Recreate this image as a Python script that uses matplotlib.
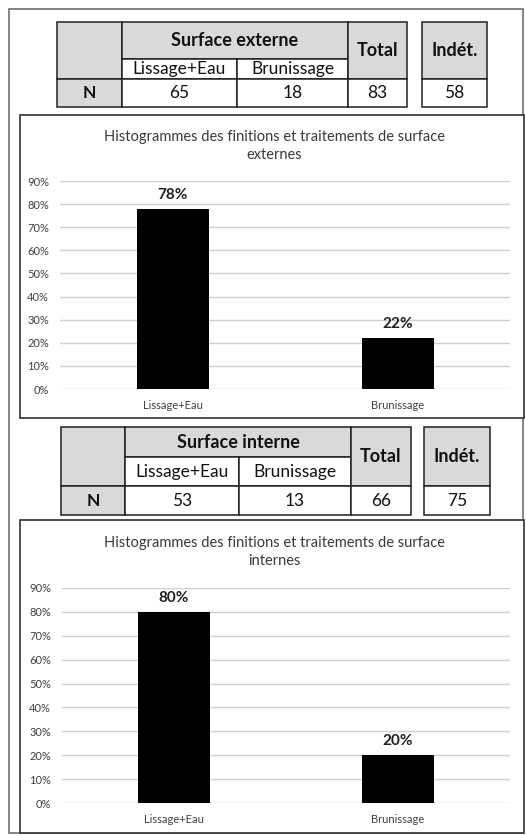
import matplotlib.pyplot as plt
from matplotlib.patches import Rectangle
from matplotlib.ticker import PercentFormatter

plt.rcParams['font.family'] = ['Lato', 'DejaVu Sans']

categories = ['Lissage+Eau', 'Brunissage']

ext_counts = [65, 18]
ext_total = 83
ext_indet = 58
ext_pct = [0.78, 0.22]

int_counts = [53, 13]
int_total = 66
int_indet = 75
int_pct = [0.80, 0.20]

W, H = 526, 836
fig = plt.figure(figsize=(W/100, H/100), dpi=100)
bg = fig.add_axes([0, 0, 1, 1])
bg.set_xlim(0, W)
bg.set_ylim(H, 0)
bg.axis('off')

gray = '#d9d9d9'

# outer frame
bg.add_patch(Rectangle((9, 9), 514, 824, fill=False, ec='#707070', lw=1.2))


def cell(x0, y0, x1, y1, txt='', fc='white', bold=False, size=12.5):
    bg.add_patch(Rectangle((x0, y0), x1-x0, y1-y0, fc=fc, ec='#202020', lw=1.1, zorder=2))
    if txt:
        bg.text((x0+x1)/2, (y0+y1)/2, txt, ha='center', va='center', fontsize=size,
                fontweight='bold' if bold else 'normal', zorder=3, color='#111111')


def table(cols, rows, indet_x, title, counts, total, indet):
    c0, c1, c2, c3, c4 = cols
    r0, r1, r2, r3 = rows
    cell(c0, r0, c1, r2, fc=gray)
    cell(c0, r2, c1, r3, 'N', fc=gray, bold=True)
    cell(c1, r0, c3, r1, title, fc=gray, bold=True, size=13)
    cell(c1, r1, c2, r2, categories[0])
    cell(c2, r1, c3, r2, categories[1])
    cell(c1, r2, c2, r3, str(counts[0]))
    cell(c2, r2, c3, r3, str(counts[1]))
    cell(c3, r0, c4, r2, 'Total', fc=gray, bold=True, size=13)
    cell(c3, r2, c4, r3, str(total))
    cell(indet_x[0], r0, indet_x[1], r2, 'Indét.', fc=gray, bold=True, size=13)
    cell(indet_x[0], r2, indet_x[1], r3, str(indet))


def chart(box, area, title_y, title, pct):
    bx0, by0, bx1, by1 = box
    bg.add_patch(Rectangle((bx0, by0), bx1-bx0, by1-by0, fc='white', ec='#303030', lw=1.2))
    bg.text((bx0+bx1)/2+2, title_y, 'Histogrammes des finitions et traitements de surface\n' + title,
            ha='center', va='center', fontsize=10.5, color='#3a3a3a', linespacing=1.35)
    x0, y0, x1, y1 = area
    ax = fig.add_axes([x0/W, 1-y1/H, (x1-x0)/W, (y1-y0)/H])
    ax.patch.set_alpha(0)
    bars = ax.bar(range(len(categories)), pct, width=0.32, color='black', zorder=3)
    ax.set_xlim(-0.5, 1.5)
    ax.set_ylim(0, 0.9)
    ax.set_yticks([i/10 for i in range(10)])
    ax.yaxis.set_major_formatter(PercentFormatter(1.0, decimals=0))
    ax.set_xticks(range(len(categories)))
    ax.set_xticklabels(categories)
    ax.tick_params(length=0, labelsize=8, colors='#404040', pad=8)
    ax.tick_params(axis='y', pad=8)
    ax.grid(axis='y', color='#d0d0d0', lw=1)
    for s in ax.spines.values():
        s.set_visible(False)
    for b, v in zip(bars, pct):
        ax.text(b.get_x()+b.get_width()/2, v+0.03, '%d%%' % round(v*100), ha='center', va='bottom',
                fontsize=11, fontweight='bold', color='#202020')


table([57, 122, 237, 348, 407], [22, 59, 79, 107], (422, 487), 'Surface externe',
      ext_counts, ext_total, ext_indet)
chart((20, 115, 524, 418), (60, 181, 510, 389), 146, 'externes', ext_pct)

table([61, 125, 239, 351, 411], [427, 457, 486, 515], (424, 490), 'Surface interne',
      int_counts, int_total, int_indet)
chart((20, 520, 524, 833), (62, 588, 510, 803), 552, 'internes', int_pct)

fig.savefig('out.png', dpi=100)
